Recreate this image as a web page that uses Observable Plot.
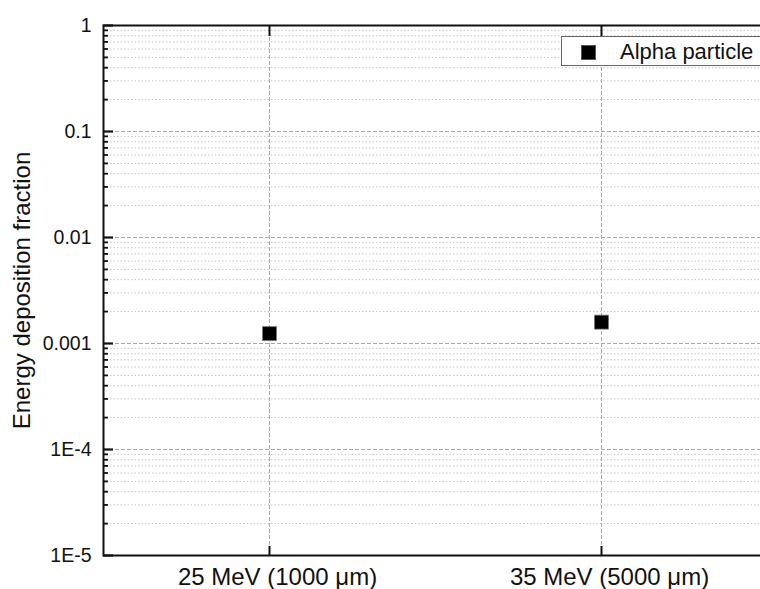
<!DOCTYPE html>
<html><head><meta charset="utf-8">
<script src="https://cdn.jsdelivr.net/npm/d3@7"></script>
<script src="https://cdn.jsdelivr.net/npm/@observablehq/plot@0.6"></script>
<style>
body{margin:0;background:#fff;overflow:hidden;font-family:"Liberation Sans",Arial,sans-serif}
#wrap{position:relative;width:760px;height:589px;overflow:hidden}
#legend{position:absolute;left:561px;top:36px;width:230px;height:28px;border:1.5px solid #666;background:#fff;box-sizing:content-box}
#legend .sw{position:absolute;left:19px;top:8px;width:13px;height:13px;background:#000;border:0.5px solid #555}
#legend .lb{position:absolute;left:58px;top:0;line-height:29px;font-size:22px;color:#111;white-space:nowrap}
</style></head>
<body><div id="wrap"></div>
<script>
const categories = ["25 MeV (1000 \u03bcm)", "35 MeV (5000 \u03bcm)"];
const fractions = [0.00124, 0.00159];
const yMajorTicks = [1, 0.1, 0.01, 0.001, 1e-4, 1e-5];
const yTickLabels = ["1", "0.1", "0.01", "0.001", "1E-4", "1E-5"];
const seriesName = "Alpha particle";
const yTitle = "Energy deposition fraction";

const data = categories.map((c, i) => ({category: c, value: fractions[i]}));
const minorTicks = d3.scaleLog().domain([1e-5, 1]).ticks()
  .filter(v => !yMajorTicks.some(m => Math.abs(m - v) / m < 1e-9));

const chart = Plot.plot({
  width: 760, height: 589,
  marginLeft: 103, marginRight: -7, marginTop: 25, marginBottom: 34,
  style: {fontFamily: '"Liberation Sans", Arial, sans-serif', background: "white", color: "#111", fontSize: "19px"},
  x: {type: "point", domain: categories, padding: 0.5},
  y: {type: "log", domain: [1e-5, 1]},
  marks: [
    Plot.ruleY(minorTicks, {stroke: "#c4c4c4", strokeDasharray: "1.5,2"}),
    Plot.ruleY(yMajorTicks.slice(1, -1), {stroke: "#a8a8a8", strokeDasharray: "4,2"}),
    Plot.ruleX(categories, {stroke: "#a8a8a8", strokeDasharray: "4,2"}),
    Plot.axisY(minorTicks, {tickSize: -5, tickFormat: () => "", label: null, strokeWidth: 1.8}),
    Plot.axisY(yMajorTicks, {tickSize: -10, tickPadding: 22, label: null, strokeWidth: 2.2,
      tickFormat: d => yTickLabels[yMajorTicks.indexOf(d)], fontSize: 19.5}),
    Plot.axisX({anchor: "bottom", tickSize: -9, tickPadding: 21, fontSize: 24, label: null, strokeWidth: 2}),
    Plot.axisX({anchor: "top", tickSize: -10, tickFormat: () => "", label: null, strokeWidth: 2}),
    Plot.frame({stroke: "#111", strokeWidth: 2}),
    Plot.dot(data, {x: "category", y: "value", symbol: "square", r: 7.9, fill: "#000", stroke: "#777", strokeWidth: 0.8}),
    Plot.text([yTitle], {frameAnchor: "left", rotate: -90, dx: -81, textAnchor: "middle", fontSize: 24, fill: "#111"})
  ]
});
d3.select(chart).selectAll('g[aria-label="y-axis tick label"]').attr("font-size", 19.5).selectAll("text").attr("font-size", 19.5);
d3.select(chart).selectAll('g[aria-label="x-axis tick label"]')
  .attr("font-size", 24)
  .attr("transform", function () { return (this.getAttribute("transform") || "") + " translate(8,0)"; })
  .selectAll("text").attr("font-size", 24);
const wrap = document.getElementById("wrap");
wrap.appendChild(chart);
const lg = document.createElement("div");
lg.id = "legend";
lg.innerHTML = '<div class="sw"></div><div class="lb"></div>';
lg.querySelector(".lb").textContent = seriesName;
wrap.appendChild(lg);
</script>
</body></html>
